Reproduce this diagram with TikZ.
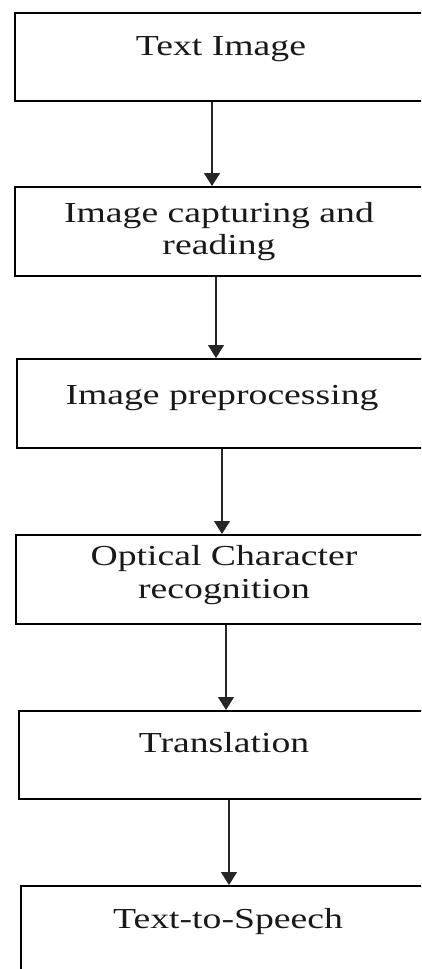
\documentclass[tikz,border=0pt]{standalone}
\usepackage{fontspec}
\setmainfont[FakeStretch=1.3]{Liberation Serif}
\usetikzlibrary{arrows.meta}
\begin{document}
\begin{tikzpicture}[x=1pt,y=-1pt,
  box/.style={draw=black,line width=2.2pt,minimum width=440pt,anchor=north west,inner sep=0pt},
  lbl/.style={anchor=base,inner sep=0pt,font=\fontsize{29}{32}\selectfont,text=black!90},
  arr/.style={draw=black!85,line width=1.3pt,-{Triangle[width=16pt,length=13pt]}}]
\useasboundingbox (0,0) rectangle (421,969);
\clip (0,0) rectangle (421,969);
% boxes
\node[box,minimum height=88pt] (b1) at (14,12) {};
\node[box,minimum height=89pt] (b2) at (14,186) {};
\node[box,minimum height=89pt] (b3) at (16,358) {};
\node[box,minimum height=89pt] (b4) at (15,534) {};
\node[box,minimum height=88pt] (b5) at (18,710) {};
\node[box,minimum height=120pt] (b6) at (20,885) {};
% labels
\node[lbl] (t1) at (221,55) {Text Image};
\node[lbl] (t2a) at (219,222) {Image capturing and};
\node[lbl] (t2b) at (219,254) {reading};
\node[lbl] (t3) at (222,404) {Image preprocessing};
\node[lbl] (t4a) at (224,565) {Optical Character};
\node[lbl] (t4b) at (224,598) {recognition};
\node[lbl] (t5) at (224,752) {Translation};
\node[lbl] (t6) at (228,928) {Text-to-Speech};
% arrow x positions
\coordinate (x1) at (212,0);
\coordinate (x2) at (216,0);
\coordinate (x3) at (222,0);
\coordinate (x4) at (226,0);
\coordinate (x5) at (229,0);
\draw[arr] (b1.south -| x1) -- (b2.north -| x1);
\draw[arr] (b2.south -| x2) -- (b3.north -| x2);
\draw[arr] (b3.south -| x3) -- (b4.north -| x3);
\draw[arr] (b4.south -| x4) -- (b5.north -| x4);
\draw[arr] (b5.south -| x5) -- (b6.north -| x5);
\end{tikzpicture}
\end{document}
